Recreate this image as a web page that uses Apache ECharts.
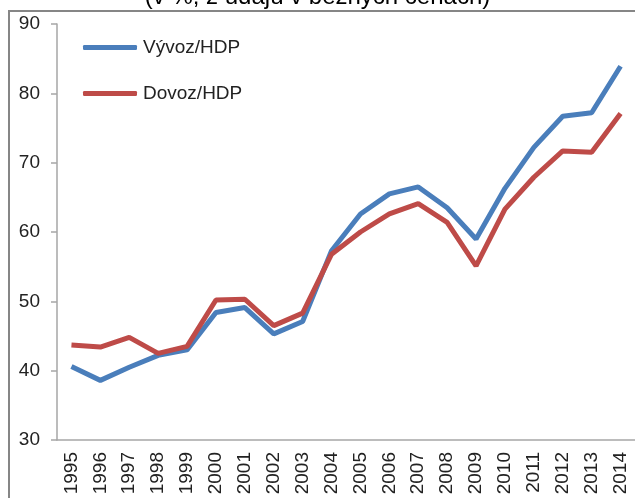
<!DOCTYPE html>
<html>
<head>
<meta charset="utf-8">
<script src="https://cdn.jsdelivr.net/npm/echarts@6/dist/echarts.min.js"></script>
<style>
  html, body { margin: 0; padding: 0; background: #fff; }
  #chart { width: 635px; height: 498px; }
</style>
</head>
<body>
<div id="chart"></div>
<script>
  // roky
  var years = ['1995', '1996', '1997', '1998', '1999', '2000', '2001', '2002', '2003', '2004',
    '2005', '2006', '2007', '2008', '2009', '2010', '2011', '2012', '2013', '2014']
  // vývoz / HDP (v %)
  var exportGdp = [40.6, 38.6, 40.5, 42.2, 43.0, 48.4, 49.1, 45.3, 47.1, 57.3,
    62.6, 65.5, 66.5, 63.5, 59.0, 66.3, 72.2, 76.7, 77.2, 83.9]
  // dovoz / HDP (v %)
  var importGdp = [43.7, 43.4, 44.8, 42.5, 43.5, 50.2, 50.3, 46.5, 48.3, 56.8,
    60.0, 62.6, 64.1, 61.4, 55.1, 63.3, 67.9, 71.7, 71.5, 77.1]
  var yTicks = [30, 40, 50, 60, 70, 80, 90]

  var font = 'Liberation Sans, Arial, sans-serif'
  var chart = echarts.init(document.getElementById('chart'))

  chart.setOption({
    animation: false,
    title: {
      text: '(v %, z údajů v běžných cenách)',
      left: 'center',
      top: -20,
      textStyle: {
        fontFamily: font,
        fontSize: 24,
        fontWeight: 'normal',
        color: '#000'
      }
    },
    graphic: [{
      type: 'rect',
      shape: { x: 9, y: 11, width: 700, height: 600 },
      style: { fill: 'none', stroke: '#868686', lineWidth: 2 },
      silent: true
    }],
    legend: {
      orient: 'vertical',
      left: 78,
      top: 33,
      itemWidth: 54,
      itemHeight: 5,
      itemGap: 27,
      icon: 'roundRect',
      textStyle: {
        fontFamily: font,
        fontSize: 19,
        color: '#222',
        padding: [0, 0, 0, 1]
      },
      data: ['Vývoz/HDP', 'Dovoz/HDP']
    },
    grid: {
      left: 57,
      top: 24,
      width: 582,
      bottom: 58,
      containLabel: false
    },
    xAxis: {
      type: 'category',
      data: years,
      boundaryGap: true,
      axisLine: { lineStyle: { color: '#a6a6a6', width: 1.5 } },
      axisTick: { length: 7, lineStyle: { color: '#a6a6a6', width: 1.5 } },
      axisLabel: {
        rotate: 90,
        margin: 12,
        interval: 0,
        fontFamily: font,
        fontSize: 19,
        color: '#222'
      }
    },
    yAxis: {
      type: 'value',
      min: yTicks[0],
      max: yTicks[yTicks.length - 1],
      interval: 10,
      splitLine: { show: false },
      axisLine: { show: true, lineStyle: { color: '#a6a6a6', width: 1.5 } },
      axisTick: { show: true, length: 6, lineStyle: { color: '#a6a6a6', width: 1.5 } },
      axisLabel: {
        margin: 17,
        fontFamily: font,
        fontSize: 19,
        color: '#222'
      }
    },
    series: [{
      name: 'Vývoz/HDP',
      type: 'line',
      data: exportGdp,
      symbol: 'none',
      itemStyle: { color: '#4a7ebb' },
      lineStyle: { color: '#4a7ebb', width: 5 },
      z: 2
    }, {
      name: 'Dovoz/HDP',
      type: 'line',
      data: importGdp,
      symbol: 'none',
      itemStyle: { color: '#be4b48' },
      lineStyle: { color: '#be4b48', width: 5 },
      z: 3
    }]
  })
</script>
</body>
</html>
